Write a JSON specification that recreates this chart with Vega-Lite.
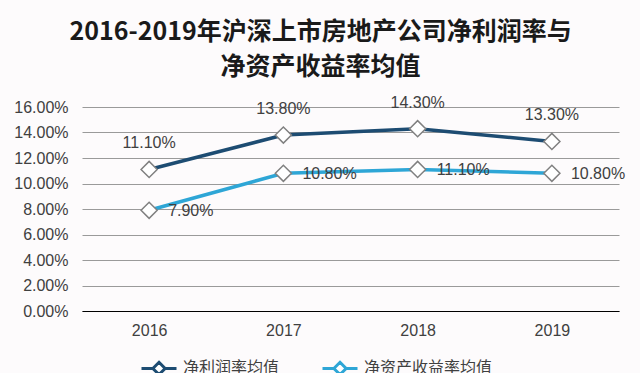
{
  "$schema": "https://vega.github.io/schema/vega-lite/v6.json",
  "autosize": "none",
  "width": 537,
  "height": 204,
  "padding": {"left": 82, "top": 107, "right": 21, "bottom": 62},
  "background": "#fdfbfc",
  "title": {
    "text": ["2016-2019年沪深上市房地产公司净利润率与", "净资产收益率均值"],
    "font": "Noto Sans CJK SC",
    "fontWeight": "bold",
    "fontSize": 25,
    "color": "#1a1a1a",
    "anchor": "middle",
    "dx": -30,
    "offset": 15,
    "lineHeight": 35
  },
  "data": {
    "values": [
      {"year": "2016", "series": "净利润率均值", "value": 0.111},
      {"year": "2017", "series": "净利润率均值", "value": 0.138},
      {"year": "2018", "series": "净利润率均值", "value": 0.143},
      {"year": "2019", "series": "净利润率均值", "value": 0.133},
      {"year": "2016", "series": "净资产收益率均值", "value": 0.079},
      {"year": "2017", "series": "净资产收益率均值", "value": 0.108},
      {"year": "2018", "series": "净资产收益率均值", "value": 0.111},
      {"year": "2019", "series": "净资产收益率均值", "value": 0.108}
    ]
  },
  "encoding": {
    "x": {
      "field": "year", "type": "ordinal",
      "scale": {"type": "point", "padding": 0.5},
      "axis": {"title": null, "labelAngle": 0, "ticks": false, "labelPadding": 11, "labelFontSize": 16, "labelColor": "#404040", "labelFont": "Liberation Sans", "domainColor": "#000000", "domainWidth": 1.2, "grid": false}
    },
    "y": {
      "field": "value", "type": "quantitative",
      "scale": {"domain": [0, 0.16]},
      "axis": {"title": null, "format": ".2%", "values": [0, 0.02, 0.04, 0.06, 0.08, 0.1, 0.12, 0.14, 0.16], "ticks": false, "domain": false, "labelPadding": 14, "labelFontSize": 16, "labelColor": "#404040", "labelFont": "Liberation Sans", "gridColor": "#9a9a9a", "gridWidth": 1}
    }
  },
  "layer": [
    {
      "mark": {"type": "line", "strokeWidth": 3.5},
      "encoding": {
        "color": {
          "field": "series", "type": "nominal",
          "scale": {"domain": ["净利润率均值", "净资产收益率均值"], "range": ["#1d4c72", "#2ea6d6"]},
          "legend": {
            "title": null, "orient": "none", "direction": "horizontal",
            "legendX": 58, "legendY": 242,
            "symbolType": "M-1,0L-0.35,0M0.35,0L1,0M0,-0.35L0.35,0L0,0.35L-0.35,0Z",
            "symbolSize": 1225, "symbolStrokeWidth": 3, "symbolFillColor": "#ffffff",
            "labelFontSize": 16, "labelFont": "Noto Sans CJK SC", "labelColor": "#404040",
            "labelOffset": 5, "columnPadding": 36
          }
        }
      }
    },
    {
      "mark": {"type": "point", "shape": "diamond", "size": 260, "filled": true, "fill": "#ffffff", "stroke": "#808080", "strokeWidth": 1.5, "opacity": 1}
    },
    {
      "transform": [{"filter": "datum.series === '净利润率均值'"}],
      "mark": {"type": "text", "dy": -26, "baseline": "middle", "align": "center", "fontSize": 16, "font": "Liberation Sans", "color": "#404040"},
      "encoding": {"text": {"field": "value", "type": "quantitative", "format": ".2%"}}
    },
    {
      "transform": [{"filter": "datum.series === '净资产收益率均值'"}],
      "mark": {"type": "text", "dx": 19, "dy": 1, "baseline": "middle", "align": "left", "fontSize": 16, "font": "Liberation Sans", "color": "#404040"},
      "encoding": {"text": {"field": "value", "type": "quantitative", "format": ".2%"}}
    }
  ],
  "config": {"view": {"stroke": null}}
}
